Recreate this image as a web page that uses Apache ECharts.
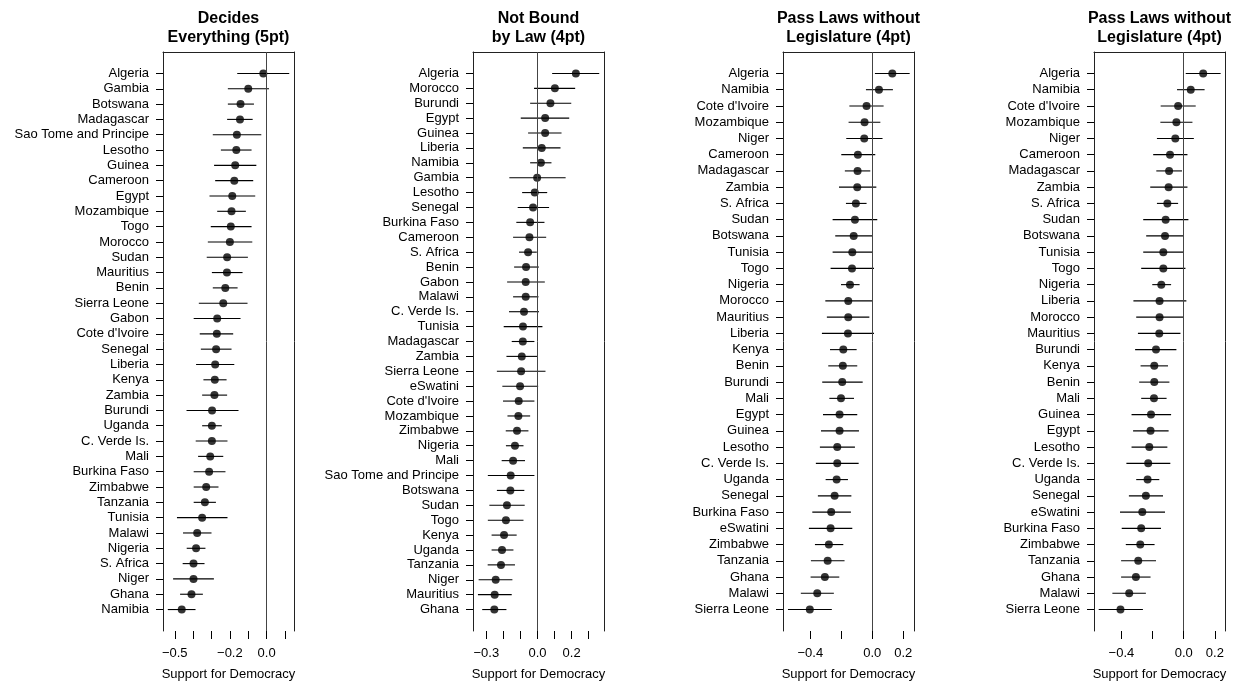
<!DOCTYPE html>
<html>
<head>
<meta charset="utf-8">
<script src="https://cdn.jsdelivr.net/npm/echarts@6/dist/echarts.min.js"></script>
<style>
  html, body { margin: 0; padding: 0; background: #fff; }
  #main { width: 1239px; height: 681px; }
</style>
</head>
<body>
<div id="main"></div>
<script>
// panel 1: Decides Everything (5pt)
var countries1 = ['Algeria','Gambia','Botswana','Madagascar','Sao Tome and Principe','Lesotho','Guinea','Cameroon','Egypt','Mozambique','Togo','Morocco','Sudan','Mauritius','Benin','Sierra Leone','Gabon',"Cote d'Ivoire",'Senegal','Liberia','Kenya','Zambia','Burundi','Uganda','C. Verde Is.','Mali','Burkina Faso','Zimbabwe','Tanzania','Tunisia','Malawi','Nigeria','S. Africa','Niger','Ghana','Namibia'];
var est1 = [-0.018,-0.10,-0.142,-0.145,-0.162,-0.165,-0.171,-0.176,-0.187,-0.191,-0.195,-0.20,-0.215,-0.216,-0.225,-0.236,-0.269,-0.271,-0.275,-0.28,-0.282,-0.284,-0.297,-0.298,-0.298,-0.307,-0.313,-0.329,-0.336,-0.351,-0.378,-0.384,-0.398,-0.398,-0.409,-0.462];
var lo1 = [-0.16,-0.211,-0.211,-0.215,-0.293,-0.249,-0.286,-0.28,-0.311,-0.269,-0.304,-0.32,-0.326,-0.298,-0.293,-0.369,-0.397,-0.364,-0.358,-0.384,-0.344,-0.351,-0.436,-0.351,-0.386,-0.373,-0.397,-0.397,-0.397,-0.488,-0.455,-0.435,-0.457,-0.509,-0.471,-0.538];
var hi1 = [0.123,0.013,-0.069,-0.076,-0.029,-0.082,-0.056,-0.073,-0.062,-0.113,-0.082,-0.078,-0.102,-0.131,-0.158,-0.104,-0.142,-0.182,-0.191,-0.176,-0.218,-0.215,-0.153,-0.244,-0.213,-0.236,-0.224,-0.262,-0.276,-0.213,-0.3,-0.333,-0.338,-0.287,-0.347,-0.387];
var ticks1 = [-0.5,-0.4,-0.3,-0.2,-0.1,0,0.1];
var tickLabels1 = [-0.5,-0.2,0];

// panel 2: Not Bound by Law (4pt)
var countries2 = ['Algeria','Morocco','Burundi','Egypt','Guinea','Liberia','Namibia','Gambia','Lesotho','Senegal','Burkina Faso','Cameroon','S. Africa','Benin','Gabon','Malawi','C. Verde Is.','Tunisia','Madagascar','Zambia','Sierra Leone','eSwatini',"Cote d'Ivoire",'Mozambique','Zimbabwe','Nigeria','Mali','Sao Tome and Principe','Botswana','Sudan','Togo','Kenya','Uganda','Tanzania','Niger','Mauritius','Ghana'];
var est2 = [0.225,0.102,0.076,0.045,0.045,0.025,0.02,-0.002,-0.016,-0.026,-0.043,-0.047,-0.055,-0.067,-0.069,-0.069,-0.079,-0.085,-0.086,-0.092,-0.096,-0.102,-0.11,-0.112,-0.12,-0.132,-0.143,-0.157,-0.159,-0.179,-0.185,-0.196,-0.208,-0.214,-0.245,-0.251,-0.253];
var lo2 = [0.086,-0.02,-0.043,-0.098,-0.055,-0.086,-0.043,-0.165,-0.09,-0.116,-0.124,-0.143,-0.108,-0.137,-0.178,-0.143,-0.167,-0.198,-0.151,-0.182,-0.238,-0.206,-0.202,-0.176,-0.186,-0.185,-0.21,-0.291,-0.238,-0.282,-0.291,-0.269,-0.269,-0.292,-0.345,-0.349,-0.324];
var hi2 = [0.362,0.221,0.198,0.186,0.141,0.135,0.082,0.165,0.057,0.068,0.041,0.051,-0.004,0.008,0.043,0.006,0.009,0.029,-0.018,0.0,0.047,0.004,-0.018,-0.043,-0.053,-0.082,-0.073,-0.018,-0.077,-0.075,-0.082,-0.122,-0.141,-0.132,-0.147,-0.151,-0.182];
var ticks2 = [-0.3,-0.2,-0.1,0,0.1,0.2,0.3];
var tickLabels2 = [-0.3,0,0.2];

// panel 3: Pass Laws without Legislature (4pt)
var countries3 = ['Algeria','Namibia',"Cote d'Ivoire",'Mozambique','Niger','Cameroon','Madagascar','Zambia','S. Africa','Sudan','Botswana','Tunisia','Togo','Nigeria','Morocco','Mauritius','Liberia','Kenya','Benin','Burundi','Mali','Egypt','Guinea','Lesotho','C. Verde Is.','Uganda','Senegal','Burkina Faso','eSwatini','Zimbabwe','Tanzania','Ghana','Malawi','Sierra Leone'];
var est3 = [0.129,0.043,-0.037,-0.05,-0.052,-0.093,-0.095,-0.097,-0.106,-0.112,-0.12,-0.129,-0.131,-0.144,-0.155,-0.155,-0.157,-0.187,-0.19,-0.194,-0.202,-0.211,-0.211,-0.226,-0.226,-0.23,-0.243,-0.265,-0.269,-0.28,-0.288,-0.306,-0.355,-0.403];
var lo3 = [0.017,-0.041,-0.148,-0.153,-0.168,-0.2,-0.177,-0.215,-0.17,-0.256,-0.239,-0.256,-0.269,-0.202,-0.303,-0.293,-0.325,-0.273,-0.284,-0.323,-0.277,-0.318,-0.331,-0.338,-0.364,-0.301,-0.351,-0.387,-0.409,-0.37,-0.396,-0.398,-0.461,-0.544];
var hi3 = [0.241,0.133,0.073,0.052,0.066,0.019,-0.013,0.026,-0.037,0.032,0.0,0.0,0.011,-0.082,-0.002,-0.019,0.011,-0.101,-0.097,-0.062,-0.118,-0.097,-0.086,-0.112,-0.088,-0.157,-0.135,-0.138,-0.129,-0.187,-0.179,-0.213,-0.248,-0.261];
var ticks3 = [-0.4,-0.2,0,0.2];
var tickLabels3 = [-0.4,0,0.2];

// panel 4: Pass Laws without Legislature (4pt), second version
var countries4 = ['Algeria','Namibia',"Cote d'Ivoire",'Mozambique','Niger','Cameroon','Madagascar','Zambia','S. Africa','Sudan','Botswana','Tunisia','Togo','Nigeria','Liberia','Morocco','Mauritius','Burundi','Kenya','Benin','Mali','Guinea','Egypt','Lesotho','C. Verde Is.','Uganda','Senegal','eSwatini','Burkina Faso','Zimbabwe','Tanzania','Ghana','Malawi','Sierra Leone'];
var est4 = [0.125,0.045,-0.036,-0.047,-0.054,-0.088,-0.094,-0.097,-0.105,-0.116,-0.12,-0.131,-0.131,-0.144,-0.155,-0.155,-0.157,-0.178,-0.189,-0.189,-0.191,-0.21,-0.213,-0.221,-0.228,-0.232,-0.243,-0.266,-0.273,-0.279,-0.292,-0.307,-0.35,-0.406];
var lo4 = [0.013,-0.043,-0.148,-0.15,-0.172,-0.196,-0.176,-0.215,-0.172,-0.26,-0.241,-0.26,-0.273,-0.202,-0.323,-0.305,-0.294,-0.312,-0.277,-0.286,-0.273,-0.335,-0.325,-0.335,-0.368,-0.305,-0.352,-0.409,-0.398,-0.372,-0.402,-0.402,-0.458,-0.546];
var hi4 = [0.237,0.134,0.077,0.056,0.065,0.024,-0.011,0.024,-0.036,0.03,0.0,0.0,0.011,-0.081,0.017,0.0,-0.021,-0.047,-0.101,-0.092,-0.11,-0.081,-0.097,-0.105,-0.086,-0.157,-0.133,-0.12,-0.146,-0.187,-0.178,-0.213,-0.243,-0.262];
var ticks4 = [-0.4,-0.2,0,0.2];
var tickLabels4 = [-0.4,0,0.2];

var panels = [
    {title: 'Decides\nEverything (5pt)', names: countries1, est: est1, lo: lo1, hi: hi1, ticks: ticks1, labels: tickLabels1, xmin: -0.564, xmax: 0.149, left: 163},
    {title: 'Not Bound\nby Law (4pt)', names: countries2, est: est2, lo: lo2, hi: hi2, ticks: ticks2, labels: tickLabels2, xmin: -0.378, xmax: 0.390, left: 473},
    {title: 'Pass Laws without\nLegislature (4pt)', names: countries3, est: est3, lo: lo3, hi: hi3, ticks: ticks3, labels: tickLabels3, xmin: -0.576, xmax: 0.269, left: 783},
    {title: 'Pass Laws without\nLegislature (4pt)', names: countries4, est: est4, lo: lo4, hi: hi4, ticks: ticks4, labels: tickLabels4, xmin: -0.576, xmax: 0.265, left: 1094}
];

var font = '"Liberation Sans", Arial, Helvetica, sans-serif';
var boxW = 131;

function fmtNum(v) {
    var s = Math.abs(v).toFixed(1);
    return v < -1e-9 ? '\u2212' + s : s;
}

// horizontal interval line lo..hi at a row
function renderCI(params, api) {
    var a = api.coord([api.value(0), api.value(2)]);
    var b = api.coord([api.value(1), api.value(2)]);
    return {
        type: 'line',
        shape: {x1: a[0], y1: a[1], x2: b[0], y2: b[1]},
        style: {stroke: '#000', lineWidth: 1.1}
    };
}

var option = {
    animation: false,
    backgroundColor: '#fff',
    title: [], grid: [], xAxis: [], yAxis: [], series: []
};

panels.forEach(function (p, i) {
    var n = p.names.length;
    var pad = 0.04 * (n - 1);
    var rows = [];
    for (var r = 1; r <= n; r++) rows.push(r);

    // outerBoundsMode none: keep the box where it is, labels may sit outside
    option.grid.push({left: p.left, top: 52, width: boxW, height: 579, outerBoundsMode: 'none', containLabel: false});

    option.title.push({
        text: p.title,
        left: p.left + boxW / 2,
        top: 9,
        padding: 0,
        textAlign: 'center',
        textStyle: {fontFamily: font, fontSize: 16, fontWeight: 'bold', lineHeight: 19, color: '#000'}
    });

    // bottom axis with ticks + labels
    option.xAxis.push({
        gridIndex: i, type: 'value', min: p.xmin, max: p.xmax, position: 'bottom',
        axisLine: {show: false, onZero: false},
        splitLine: {show: false},
        axisTick: {show: true, length: 8, customValues: p.ticks, lineStyle: {color: '#000'}},
        axisLabel: {customValues: p.labels, margin: 16, fontSize: 13, color: '#000', fontFamily: font, formatter: fmtNum},
        name: 'Support for Democracy', nameLocation: 'middle', nameGap: 37,
        nameTextStyle: {fontSize: 13, color: '#000', fontFamily: font}
    });
    // top edge of the box
    option.xAxis.push({
        gridIndex: i, type: 'value', min: p.xmin, max: p.xmax, position: 'top',
        axisLine: {show: true, onZero: false, lineStyle: {color: '#222'}},
        axisTick: {show: false}, axisLabel: {show: false}, splitLine: {show: false}
    });

    option.yAxis.push({
        gridIndex: i, type: 'value', inverse: true, min: 1 - pad, max: n + pad, position: 'left',
        axisLine: {show: true, onZero: false, lineStyle: {color: '#222'}},
        splitLine: {show: false},
        axisTick: {show: true, length: 7, customValues: rows, lineStyle: {color: '#000'}},
        axisLabel: {
            customValues: rows, margin: 14, fontSize: 13, color: '#000', fontFamily: font,
            formatter: function (v) { return p.names[Math.round(v) - 1]; }
        }
    });
    // right edge of the box
    option.yAxis.push({
        gridIndex: i, type: 'value', inverse: true, min: 1 - pad, max: n + pad, position: 'right',
        axisLine: {show: true, onZero: false, lineStyle: {color: '#222'}},
        axisTick: {show: false}, axisLabel: {show: false}, splitLine: {show: false}
    });

    var ciData = [], ptData = [];
    for (var k = 0; k < n; k++) {
        ciData.push([p.lo[k], p.hi[k], k + 1]);
        ptData.push([p.est[k], k + 1]);
    }

    option.series.push({
        type: 'custom', xAxisIndex: 2 * i, yAxisIndex: 2 * i,
        renderItem: renderCI, data: ciData, silent: true, z: 2
    });
    option.series.push({
        type: 'scatter', xAxisIndex: 2 * i, yAxisIndex: 2 * i,
        data: ptData, symbol: 'circle', symbolSize: 8,
        itemStyle: {color: '#000'}, z: 3,
        markLine: {
            silent: true, symbol: ['none', 'none'], label: {show: false},
            lineStyle: {color: '#444', type: 'solid', width: 1},
            data: [{xAxis: 0}]
        }
    });
});

var myChart = echarts.init(document.getElementById('main'));
myChart.setOption(option);
</script>
</body>
</html>
